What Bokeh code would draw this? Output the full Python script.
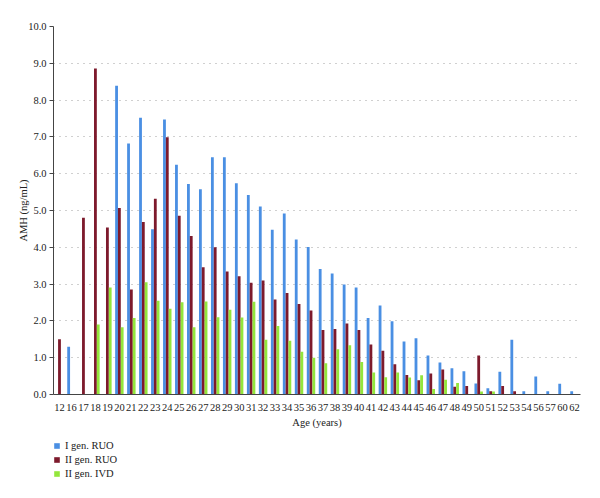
import math
from bokeh.plotting import figure
from bokeh.layouts import column
from bokeh.models import ColumnDataSource, FactorRange, Legend, LegendItem, NumeralTickFormatter, FixedTicker, Range1d
from bokeh.transform import dodge
from bokeh.embed import file_html
from bokeh.resources import INLINE

nan = float("nan")
ages = ["12", "16"] + [str(a) for a in range(17, 55)] + ["56", "57", "60", "62"]

gen1_ruo = [nan, 1.30, nan, nan, nan, 8.39, 6.82, 7.52, 4.49, 7.47, 6.24, 5.72, 5.58, 6.45, 6.45, 5.74,
            5.42, 5.11, 4.48, 4.92, 4.21, 4.01, 3.41, 3.29, 2.99, 2.91, 2.08, 2.42, 1.99, 1.44,
            1.53, 1.06, 0.87, 0.71, 0.63, 0.30, 0.17, 0.62, 1.49, 0.09, 0.49, 0.09, 0.29, 0.09]
gen2_ruo = [1.50, nan, 4.80, 8.86, 4.54, 5.07, 2.85, 4.69, 5.32, 6.99, 4.86, 4.31, 3.46, 4.00, 3.34, 3.21,
            3.04, 3.10, 2.58, 2.76, 2.46, 2.28, 1.75, 1.78, 1.93, 1.75, 1.36, 1.19, 0.82, 0.53,
            0.39, 0.57, 0.68, 0.21, 0.23, 1.06, 0.09, 0.23, 0.09, nan, nan, nan, nan, nan]
gen2_ivd = [nan, nan, nan, 1.90, 2.91, 1.83, 2.08, 3.05, 2.55, 2.33, 2.51, 1.83, 2.53, 2.10, 2.30, 2.09,
            2.52, 1.49, 1.86, 1.46, 1.16, 1.00, 0.85, 1.23, 1.34, 0.88, 0.60, 0.47, 0.60, 0.46,
            0.52, 0.15, 0.40, 0.31, nan, 0.08, 0.08, nan, nan, nan, nan, nan, nan, nan]

series_names = ["I gen. RUO", "II gen. RUO", "II gen. IVD"]
colors = ["#4a8fe3", "#7d1a2c", "#93e63c"]
offsets = [-0.235, 0.0, 0.235]

FONT = "Liberation Serif"

p = figure(width=584, height=430, x_range=FactorRange(*ages, range_padding=0),
           y_range=Range1d(0, 10), output_backend="svg", toolbar_location=None)
p.min_border_left = 53
p.min_border_right = 4
p.min_border_top = 26
p.min_border_bottom = 35
p.outline_line_color = None
p.background_fill_color = "white"

for vals, name, col, off in zip([gen1_ruo, gen2_ruo, gen2_ivd], series_names, colors, offsets):
    xs = [a for a, v in zip(ages, vals) if not math.isnan(v)]
    ys = [v for v in vals if not math.isnan(v)]
    src = ColumnDataSource(dict(age=xs, val=ys))
    p.vbar(x=dodge("age", off, range=p.x_range), top="val", width=0.235, source=src,
           fill_color=col, line_color=None)

p.xgrid.grid_line_color = None
p.ygrid.grid_line_color = "#a0a0a0"
p.ygrid.grid_line_dash = "1 5"
p.ygrid.grid_line_width = 1

p.yaxis.ticker = FixedTicker(ticks=list(range(0, 11)))
p.yaxis.formatter = NumeralTickFormatter(format="0.0")
p.yaxis.axis_label = "AMH (ng/mL)"
p.xaxis.axis_label = "Age (years)"
for ax in [p.xaxis[0], p.yaxis[0]]:
    ax.axis_label_text_font = FONT
    ax.axis_label_text_font_style = "normal"
    ax.axis_label_text_font_size = "10.5px"
    ax.axis_label_text_color = "#222222"
    ax.major_label_text_font = FONT
    ax.major_label_text_font_size = "10.5px"
    ax.major_label_text_color = "#222222"
    ax.axis_line_color = "#444444"
    ax.minor_tick_line_color = None
p.xaxis.major_tick_line_color = None
p.xaxis.major_label_standoff = 3
p.xaxis.axis_label_standoff = 3
p.yaxis.major_tick_line_color = "#444444"
p.yaxis.major_tick_out = 4
p.yaxis.major_tick_in = 0
p.yaxis.major_label_standoff = 3
p.yaxis.axis_label_standoff = -4

# legend panel below the chart (proxy renderers lie outside the visible range)
q = figure(width=584, height=68, x_range=(0, 1), y_range=(0, 1), output_backend="svg",
           toolbar_location=None, min_border=0)
q.axis.visible = False
q.grid.visible = False
q.outline_line_color = None
items = []
for name, col in zip(series_names, colors):
    r = q.vbar(x=[-5], top=[0], width=0.1, fill_color=col, line_color=None)
    items.append(LegendItem(label=name, renderers=[r]))
legend = Legend(items=items, orientation="vertical", location=(0, 18),
                label_text_font=FONT, label_text_font_size="10.5px", label_text_color="#222222",
                glyph_width=7, glyph_height=7, spacing=1, label_height=13, padding=0,
                border_line_color=None, background_fill_alpha=0, margin=0,
                label_standoff=5)
q.add_layout(legend, "center")

open("out.html", "w").write(file_html(column(p, q, spacing=0), INLINE))
